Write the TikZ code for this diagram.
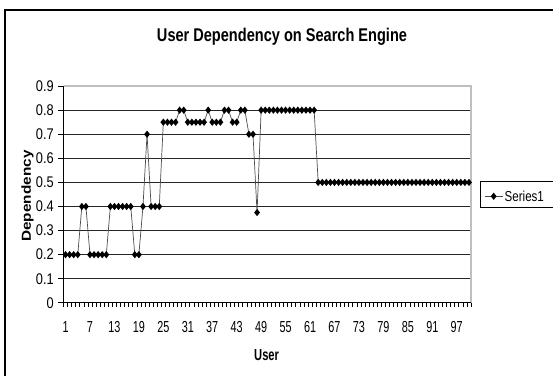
\documentclass[tikz,border=0pt]{standalone}
\usepackage{fontspec}
\setmainfont{Liberation Sans}
\usetikzlibrary{shapes.geometric}
% narrow set text, the way the chart prints it
\newcommand{\narrowtext}[2]{\scalebox{#1}[1]{#2}}
\begin{document}
\begin{tikzpicture}[x=1bp,y=-1bp,
  outerframe/.style={draw=black,line width=1.3bp},
  gridline/.style={draw=black!85,line width=0.9bp},
  plotedge/.style={draw=black!25,line width=1.2bp},
  axisline/.style={draw=black,line width=1bp},
  tickline/.style={draw=black,line width=0.7bp},
  seriesline/.style={draw=black!70,line width=0.7bp},
  diamondmark/.style={diamond,fill=black,draw=none,inner sep=0pt,minimum width=6bp,minimum height=7.5bp},
  ylabel/.style={inner sep=0pt,anchor=east,font=\fontsize{15.5}{17}\selectfont},
  xlabel/.style={inner sep=0pt,anchor=center,font=\fontsize{16}{18}\selectfont},
  titletext/.style={inner sep=0pt,anchor=base,font=\fontsize{18.5}{21}\selectfont\bfseries},
  axistitle/.style={inner sep=0pt,font=\fontsize{15.4}{18}\selectfont\bfseries},
  legendbox/.style={draw=black,line width=1bp,fill=white},
  legendtext/.style={inner sep=0pt,anchor=west,font=\fontsize{14.5}{16}\selectfont},
]
\useasboundingbox (0,0) rectangle (553,375);
\clip (0,0) rectangle (553,375);
\fill[white] (0,0) rectangle (553,375);

% chart frame, running off the page on the right and at the bottom
\draw[outerframe] (5,10) rectangle (620,420);

% plot area geometry: x0, x1, y of value 0, pixels per unit, category width
\def\xa{63.5}
\def\xb{471}
\def\yz{302.8}
\def\yu{240.8}
\def\cw{4.075}

\coordinate (origin) at (\xa,\yz);
\coordinate (topleft) at (\xa,{\yz-0.9*\yu});
\coordinate (topright) at (\xb,{\yz-0.9*\yu});
\coordinate (bottomright) at (\xb,\yz);

% gridlines
\foreach \v in {0.1,0.2,...,0.85}
  \draw[gridline] (\xa,{\yz-\v*\yu}) -- (\xb,{\yz-\v*\yu});
\draw[plotedge] (topleft) -- (topright) -- (bottomright);

% axes with their ticks
\foreach \v/\t [count=\k] in {0/0,0.1/0.1,0.2/0.2,0.3/0.3,0.4/0.4,0.5/0.5,0.6/0.6,0.7/0.7,0.8/0.8,0.9/0.9} {
  \draw[tickline] (\xa-6,{\yz-\v*\yu}) -- (\xa,{\yz-\v*\yu});
  \node[ylabel] (yl\k) at (54,{\yz-\v*\yu}) {\narrowtext{0.83}{\t}};
}
\foreach \k in {0,...,100}
  \draw[tickline] ({\xa+\k*\cw},\yz) -- ({\xa+\k*\cw},\yz+4);
\draw[axisline] (topleft) -- (origin) -- (bottomright);

% category labels
\foreach \n in {1,7,...,97}
  \node[xlabel] (xl\n) at ({\xa+(\n-0.5)*\cw},327.5) {\narrowtext{0.68}{\n}};

% data series
\def\datalist{0.2,0.2,0.2,0.2,0.4,0.4,0.2,0.2,0.2,0.2,0.2,0.4,0.4,0.4,0.4,0.4,0.4,0.2,0.2,0.4,%
0.7,0.4,0.4,0.4,0.75,0.75,0.75,0.75,0.8,0.8,0.75,0.75,0.75,0.75,0.75,0.8,0.75,0.75,0.75,0.8,%
0.8,0.75,0.75,0.8,0.8,0.7,0.7,0.375,0.8,0.8,0.8,0.8,0.8,0.8,0.8,0.8,0.8,0.8,0.8,0.8,%
0.8,0.8,0.5,0.5,0.5,0.5,0.5,0.5,0.5,0.5,0.5,0.5,0.5,0.5,0.5,0.5,0.5,0.5,0.5,0.5,%
0.5,0.5,0.5,0.5,0.5,0.5,0.5,0.5,0.5,0.5,0.5,0.5,0.5,0.5,0.5,0.5,0.5,0.5,0.5,0.5}
\foreach \v [count=\i] in \datalist
  \coordinate (p\i) at ({\xa+(\i-0.5)*\cw},{\yz-\v*\yu});
\draw[seriesline] (p1) \foreach \i in {2,...,100} { -- (p\i) };
\foreach \i in {1,...,100}
  \node[diamondmark] (m\i) at (p\i) {};

% titles
\node[titletext] (title) at (282,41.7) {\narrowtext{0.79}{User Dependency on Search Engine}};
\node[axistitle,rotate=90] (ytitle) at (27.5,196) {\scalebox{1}[0.85]{Dependency}};
\node[axistitle,font=\fontsize{16}{18}\selectfont\bfseries] (xtitle) at (266.6,355.5) {\narrowtext{0.7}{User}};

% legend
\draw[legendbox] (480.5,181.7) rectangle (600,207.3);
\coordinate (la) at (484.8,196.3);
\coordinate (lb) at (502.5,196.3);
\draw[seriesline] (la) -- (lb);
\node[diamondmark] (lm) at (493.7,196.3) {};
\node[legendtext] (ltext) at (504.5,196.5) {\narrowtext{0.8}{Series1}};
\end{tikzpicture}
\end{document}
